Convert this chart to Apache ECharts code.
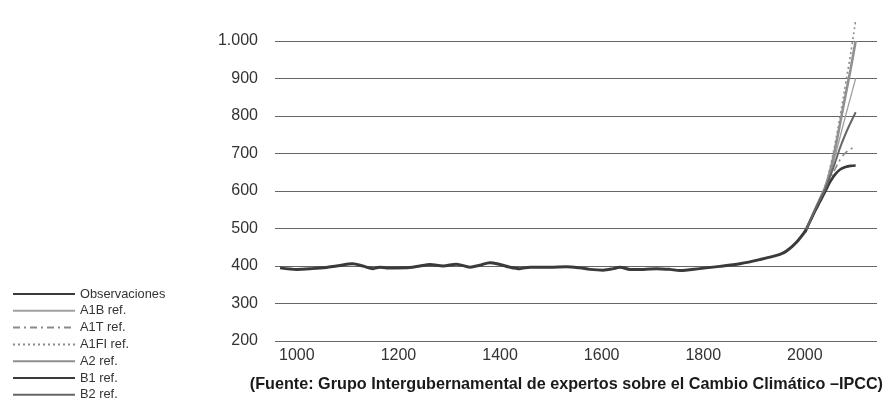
<!DOCTYPE html>
<html>
<head>
<meta charset="utf-8">
<script src="https://cdn.jsdelivr.net/npm/echarts@6/dist/echarts.min.js"></script>
<style>html,body{margin:0;padding:0;background:#fff}#c{width:885px;height:403px}</style>
</head>
<body>
<div id="c"></div>
<script>
// ---- data ----
const xTickLabels = [1000, 1200, 1400, 1600, 1800, 2000];
const obsYears = [967,1000,1030,1058,1078,1110,1130,1150,1163,1177,1196,1222,1242,1262,1288,1314,1341,1360,1380,1400,1419,1439,1459,1498,1531,1557,1577,1603,1623,1636,1656,1682,1708,1734,1754,1793,1833,1872,1911,1951,1964,1984,2003];
const obsValues = [395,391,393,396,400,406,400,393,397,395,395,396,400,404,400,405,397,402,409,404,397,393,397,397,398,395,391,389,393,397,391,391,393,391,388,393,399,406,417,431,440,464,497];
const scenYears = [2000,2010,2020,2030,2040,2050,2060,2070,2080,2090,2100];
const a1b  = [490,520,550,580,608,648,695,748,800,850,900];
const a1t  = [490,520,548,575,602,632,660,685,702,712,717];
const a1fi = [490,520,550,580,612,665,730,805,885,965,1055];
const a2   = [490,520,550,580,610,655,715,785,855,925,1000];
const b1   = [490,518,546,572,598,625,645,658,664,667,668];
const b2   = [490,520,550,578,605,640,678,718,752,782,810];
const seriesNames = ['Observaciones','A1B ref.','A1T ref.','A1FI ref.','A2 ref.','B1 ref.','B2 ref.'];
const titleText = '(Fuente: Grupo Intergubernamental de expertos sobre el Cambio Climático –IPCC)';

function pairs(xs, ys){ return xs.map((x,i)=>[x, ys[i]]); }

const styles = [
  {color:'#3a3a3a', width:3, type:'solid'},
  {color:'#a0a0a0', width:1.3, type:'solid'},
  {color:'#8a8a8a', width:1.6, type:[7,4,2,4]},
  {color:'#8a8a8a', width:1.6, type:[2,3]},
  {color:'#909090', width:2.6, type:'solid'},
  {color:'#3a3a3a', width:2.6, type:'solid'},
  {color:'#666666', width:2, type:'solid'}
];
const dataSets = [pairs(obsYears,obsValues), pairs(scenYears,a1b), pairs(scenYears,a1t), pairs(scenYears,a1fi), pairs(scenYears,a2), pairs(scenYears,b1), pairs(scenYears,b2)];

const FONT = '"Liberation Sans", Arial, sans-serif';
const chart = echarts.init(document.getElementById('c'), null, {renderer:'canvas'});
chart.setOption({
  animation:false,
  backgroundColor:'#ffffff',
  title:{
    text:titleText, right:2, top:377, padding:0,
    textStyle:{fontFamily:FONT, fontWeight:'bold', fontSize:16.2, color:'#1a1a1a'}
  },
  legend:{
    orient:'vertical', left:12, top:287, height:130, padding:0,
    itemWidth:62, itemHeight:14, itemGap:2.8,
    data:seriesNames,
    itemStyle:{color:'transparent', borderWidth:0, opacity:0},
    textStyle:{fontFamily:FONT, fontSize:12.8, lineHeight:14, color:'#333'}
  },
  grid:{left:275, right:8, top:41, bottom:62},
  xAxis:{
    type:'value', min:957, max:2142,
    axisLine:{show:false}, axisTick:{show:false}, splitLine:{show:false},
    axisLabel:{customValues:xTickLabels, formatter:v=>String(v), fontSize:16, color:'#333', margin:7, fontFamily:FONT}
  },
  yAxis:{
    type:'value', min:200, max:1000, interval:100,
    axisLine:{show:false}, axisTick:{show:false},
    splitLine:{lineStyle:{color:'#666', width:1}},
    axisLabel:{fontSize:16, color:'#333', margin:17, fontFamily:FONT,
      formatter:v=> v>=1000 ? Math.floor(v/1000)+'.'+String(v%1000).padStart(3,'0') : String(v)}
  },
  series: seriesNames.map((n,i)=>({
    name:n, type:'line', data:dataSets[i], symbol:'none', clip:false,
    smooth: i===0 ? 0.3 : 0.4, z: i===0 ? 3 : 2,
    lineStyle:{color:styles[i].color, width:styles[i].width, type:styles[i].type},
    itemStyle:{color:styles[i].color}
  }))
});
</script>
</body>
</html>
